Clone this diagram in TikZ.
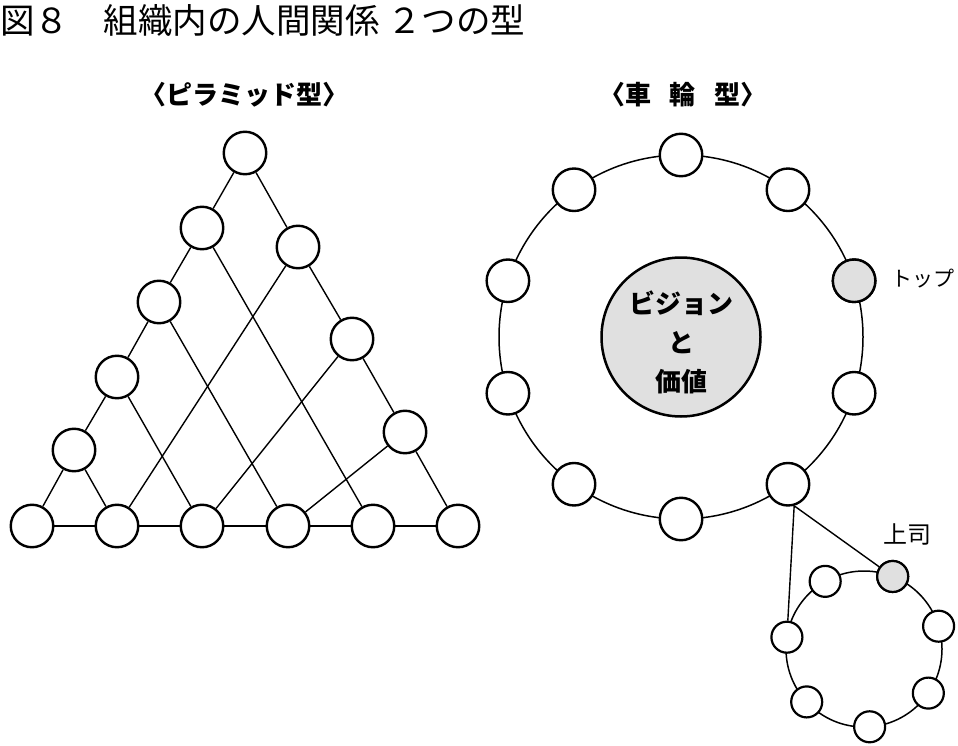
\documentclass[tikz,border=0pt]{standalone}
\usepackage{fontspec}
\newfontfamily\jp{Noto Sans CJK JP}
\definecolor{lightfill}{HTML}{E0E0E0}
\tikzset{
  nd/.style={circle, draw, line width=2.4pt, minimum size=42.5pt, inner sep=0pt, fill=white},
  sn/.style={circle, draw, line width=2.2pt, minimum size=31pt, inner sep=0pt, fill=white},
  ln/.style={line width=1.4pt},
  hd/.style={font=\jp\bfseries\fontsize{26pt}{30pt}\selectfont},
  lbl/.style={font=\jp\fontsize{21pt}{25pt}\selectfont, inner sep=0pt}
}
\begin{document}
\begin{tikzpicture}[x=1pt,y=-1pt]
\useasboundingbox (0,0) rectangle (958,746);
% title
\node[anchor=west, inner sep=0pt, font=\jp\fontsize{34.5pt}{40pt}\selectfont] (title) at (0,20) {図８　組織内の人間関係 ２つの型};
% headings
\node[hd] (h1) at (244,95) {〈ピラミッド型〉};
\node[hd] (h2) at (683,95) {\spaceskip=19pt 〈車 輪 型〉};
% ---------- pyramid ----------
\node[nd] (T) at (245,153) {};
\node[nd] (L1) at (202,228) {};
\node[nd] (L2) at (159,302) {};
\node[nd] (L3) at (117,377) {};
\node[nd] (L4) at (74,450) {};
\node[nd] (R1) at (298,247) {};
\node[nd] (R2) at (352,339) {};
\node[nd] (R3) at (405,432) {};
\node[nd] (B0) at (32,526) {};
\node[nd] (B1) at (117,526) {};
\node[nd] (B2) at (202,526) {};
\node[nd] (B3) at (288,526) {};
\node[nd] (B4) at (373,526) {};
\node[nd] (B5) at (458,526) {};
\draw[ln] (T) -- (L1) (L1) -- (L2) (L2) -- (L3) (L3) -- (L4) (L4) -- (B0);
\draw[ln] (T) -- (R1) (R1) -- (R2) (R2) -- (R3) (R3) -- (B5);
\draw[ln] (B0) -- (B1) (B1) -- (B2) (B2) -- (B3) (B3) -- (B4) (B4) -- (B5);
\draw[ln] (L4) -- (B1) (L3) -- (B2) (L2) -- (B3) (L1) -- (B4);
\draw[ln] (R1) -- (B1) (R2) -- (B2) (R3) -- (B3);
% ---------- wheel ----------
\draw[line width=1.5pt] (681,337) circle[radius=182];
\node[circle, draw, line width=2.5pt, fill=lightfill, minimum size=159pt, inner sep=0pt] (core) at (681,337) {};
\node[align=center, font=\jp\bfseries\fontsize{26pt}{39pt}\selectfont, inner sep=0pt] (coretext) at (681,342) {ビジョン\\と\\価値};
\foreach \i in {0,...,9} {
  \pgfmathsetmacro{\a}{90-36*\i}
  \node[nd] (w\i) at ({681+182*cos(\a)},{337-182*sin(\a)}) {};
}
\node[nd, fill=lightfill] at (w2) {};
\node[lbl, anchor=west] (top) at (891,279) {トップ};
% ---------- small wheel ----------
\draw[line width=1.5pt] (864,649) circle[radius=78];
\foreach \k in {0,...,6} {
  \pgfmathsetmacro{\b}{17+360/7*\k}
  \node[sn] (s\k) at ({864+78*cos(\b)},{649-78*sin(\b)}) {};
}
\node[sn, fill=lightfill] at (s1) {};
\node[lbl, font=\jp\fontsize{24pt}{28pt}\selectfont] (boss) at (907,534) {上司};
\coordinate (j) at (w4.-74);
\draw[ln] (j) -- (s1);
\draw[ln] (j) -- (s3);
\end{tikzpicture}
\end{document}
